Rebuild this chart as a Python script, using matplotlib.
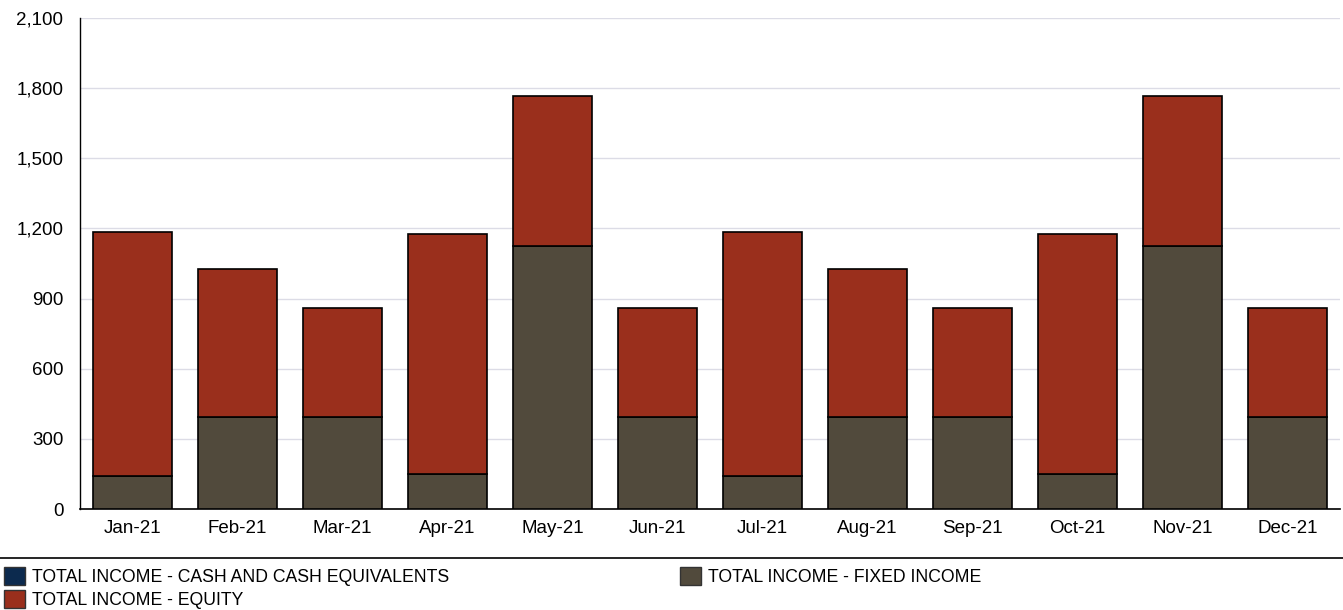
import numpy as np
import matplotlib
matplotlib.use('Agg')
import matplotlib.pyplot as plt
from matplotlib.patches import Patch
from matplotlib.lines import Line2D

months = ['Jan-21', 'Feb-21', 'Mar-21', 'Apr-21', 'May-21', 'Jun-21',
          'Jul-21', 'Aug-21', 'Sep-21', 'Oct-21', 'Nov-21', 'Dec-21']
cash = [0, 0, 0, 0, 0, 0, 0, 0, 0, 0, 0, 0]
fixed_income = [142, 392, 392, 150, 1123, 392, 142, 392, 392, 150, 1123, 392]
equity = [1043, 633, 466, 1025, 645, 466, 1043, 633, 466, 1025, 645, 466]

labels = ['TOTAL INCOME - CASH AND CASH EQUIVALENTS',
          'TOTAL INCOME - EQUITY',
          'TOTAL INCOME - FIXED INCOME']
colors = {'cash': '#0c2a4e', 'equity': '#9a2f1c', 'fixed': '#514a3c'}

plt.rcParams['font.family'] = ['Liberation Sans', 'DejaVu Sans']

fig = plt.figure(figsize=(13.43, 6.10), dpi=100)
ax = fig.add_axes([80 / 1343, 1 - 509 / 610, 1260 / 1343, 491 / 610])

x = np.arange(len(months))
w = 0.745
c = np.array(cash)
f = np.array(fixed_income)
e = np.array(equity)
ax.bar(x, c, w, color=colors['cash'], edgecolor='black', linewidth=1.2, zorder=3)
ax.bar(x, f, w, bottom=c, color=colors['fixed'], edgecolor='black', linewidth=1.2, zorder=3)
ax.bar(x, e, w, bottom=c + f, color=colors['equity'], edgecolor='black', linewidth=1.2, zorder=3)

ax.set_xlim(-0.5, len(months) - 0.5)
ax.set_ylim(0, 2100)
ax.set_yticks(np.arange(0, 2101, 300))
ax.set_yticklabels([f'{v:,}' for v in range(0, 2101, 300)])
ax.set_xticks(x)
ax.set_xticklabels(months)
ax.tick_params(axis='both', length=0, labelsize=13.5, colors='black')
ax.tick_params(axis='y', pad=12)
ax.tick_params(axis='x', pad=8)
ax.grid(axis='y', color='#dcdce6', linewidth=1, zorder=0)
for s in ['top', 'right']:
    ax.spines[s].set_visible(False)
ax.spines['left'].set_linewidth(1)
ax.spines['bottom'].set_linewidth(1.2)

# separator line above the legend
fig.add_artist(Line2D([0, 1], [1 - 558 / 610] * 2, color='black', linewidth=1.2,
                      transform=fig.transFigure))

handles = [Patch(facecolor=colors['cash'], edgecolor='#333333', label=labels[0]),
           Patch(facecolor=colors['equity'], edgecolor='#333333', label=labels[1]),
           Patch(facecolor=colors['fixed'], edgecolor='#333333', label=labels[2])]
leg = fig.legend(handles=handles, ncol=2, loc='upper left',
                 bbox_to_anchor=(0.0, 1 - 563 / 610), frameon=False,
                 fontsize=12.7, handlelength=1.2, handleheight=1.2, handletextpad=0.4,
                 labelspacing=0.25, columnspacing=13.1, borderaxespad=0, borderpad=0.2)

fig.savefig('out.png', dpi=100)
